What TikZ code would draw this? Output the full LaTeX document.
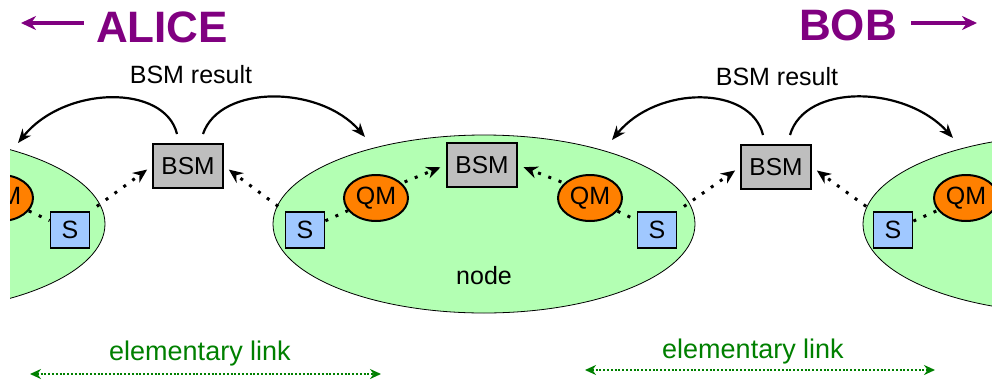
\documentclass[tikz,border=0pt]{standalone}
\usepackage{fontspec}
\setmainfont{Liberation Sans}
\usetikzlibrary{arrows.meta,shapes.geometric,calc}
\definecolor{nodegreen}{RGB}{179,255,179}
\definecolor{qmorange}{RGB}{255,128,0}
\definecolor{sblue}{RGB}{160,200,255}
\definecolor{bsmgray}{RGB}{190,190,190}
\definecolor{pur}{RGB}{128,0,128}
\definecolor{linkgreen}{RGB}{0,128,0}
\tikzset{
  bignode/.style={ellipse, draw=black, line width=0.8pt, fill=nodegreen, minimum width=422pt, minimum height=178pt, inner sep=0pt},
  bsmbox/.style={rectangle, draw=black, line width=2pt, fill=bsmgray, minimum width=70pt, minimum height=44pt, inner sep=0pt, font=\fontsize{24.5}{28}\selectfont},
  qmnode/.style={ellipse, draw=black, line width=2pt, fill=qmorange, minimum width=64pt, minimum height=46pt, inner sep=0pt, font=\fontsize{25}{28}\selectfont},
  srcbox/.style={rectangle, draw=black, line width=1.8pt, fill=sblue, minimum width=39pt, minimum height=36pt, inner sep=0pt, font=\fontsize{25}{28}\selectfont},
  dotline/.style={line width=3pt, dash pattern=on 3pt off 8pt},
  dotarrow/.style={dotline, -{Stealth[length=14pt,width=12pt]}, shorten >=6pt, shorten <=8pt},
  resarrow/.style={line width=2.2pt, -{Stealth[length=14pt,width=11pt]}},
  linkarrow/.style={linkgreen, line width=2.5pt, dash pattern=on 2pt off 1.8pt, {Stealth[length=11pt,width=10pt]}-{Stealth[length=11pt,width=10pt]}},
  partyarrow/.style={pur, line width=4.5pt, -{Stealth[length=15pt,width=14pt]}},
  plaintext/.style={inner sep=0pt, anchor=base, font=\fontsize{25}{30}\selectfont},
  linktext/.style={inner sep=0pt, anchor=base, text=linkgreen, font=\fontsize{27}{32}\selectfont},
  partytext/.style={inner sep=0pt, anchor=base, text=pur, font=\fontsize{44}{50}\selectfont\bfseries}
}
\begin{document}
\begin{tikzpicture}[x=1pt,y=-1pt]
\useasboundingbox (0,0) rectangle (992,383);
\begin{scope}
\clip (10,0) rectangle (992,383);
\node[bignode] (E1) at (-106,224) {};
\node[bignode] (E2) at (484,224) {};
\node[bignode] (E3) at (1074,224) {};
\node[qmnode] (Q1) at (1,198) {QM};
\node[qmnode] (Q2) at (376,198) {QM};
\node[qmnode] (Q3) at (590,198) {QM};
\node[qmnode] (Q4) at (966,198) {QM};
\node[srcbox] (S1) at (70,230) {S};
\node[srcbox] (S2) at (305,230) {S};
\node[srcbox] (S3) at (657,230) {S};
\node[srcbox] (S4) at (893,230) {S};
\node[bsmbox] (B1) at (188,166) {BSM};
\node[bsmbox] (B2) at (482,165) {BSM};
\node[bsmbox] (B3) at (776,167) {BSM};
\node[plaintext] (nodetxt) at (484,284) {node};
% dotted links
\draw[dotline] (Q1) -- (S1);
\draw[dotline] (S2) -- (Q2);
\draw[dotline] (Q3) -- (S3);
\draw[dotline] (S4) -- (Q4);
\draw[dotarrow] (S1.north east) -- (B1.west);
\draw[dotarrow] (S2.north west) -- (B1.east);
\draw[dotarrow, shorten <=3pt] (Q2.30) -- (B2.west);
\draw[dotarrow, shorten <=3pt] (Q3.150) -- (B2.east);
\draw[dotarrow] (S3.north east) -- (B3.west);
\draw[dotarrow] (S4.north west) -- (B3.east);
\end{scope}
% BSM result arrows
\coordinate (t1) at (18,143);
\coordinate (t2) at (365,137);
\coordinate (t3) at (612,140);
\coordinate (t4) at (953,138);
\draw[resarrow] ([xshift=-11pt,yshift=9pt]B1.north) .. controls +(-12,-50) and +(47,-58) .. (t1);
\draw[resarrow] ([xshift=15pt,yshift=9pt]B1.north) .. controls +(17,-50) and +(-45,-52) .. (t2);
\draw[resarrow] ([xshift=-13pt,yshift=9pt]B3.north) .. controls +(-12,-50) and +(45,-55) .. (t3);
\draw[resarrow] ([xshift=14pt,yshift=9pt]B3.north) .. controls +(15,-52) and +(-48,-53) .. (t4);
\node[plaintext] (r1) at (191,83) {BSM result};
\node[plaintext] (r2) at (777,85) {BSM result};
% parties
\node[partytext] (alice) at (162,42) {ALICE};
\node[partytext] (bob) at (848,40) {BOB};
\coordinate (aw) at (21,23);
\coordinate (be) at (977,23);
\draw[partyarrow] ([xshift=-12pt]alice.west |- aw) -- (aw);
\draw[partyarrow] ([xshift=14pt]bob.east |- be) -- (be);
% elementary links
\node[linktext] (el1) at (200,360) {elementary link};
\node[linktext] (el2) at (753,358) {elementary link};
\coordinate (l1a) at (30,374);
\coordinate (l1b) at (381,374);
\coordinate (l2a) at (585,370);
\coordinate (l2b) at (935,370);
\draw[linkarrow] (l1a) -- (l1b);
\draw[linkarrow] (l2a) -- (l2b);
\end{tikzpicture}
\end{document}
